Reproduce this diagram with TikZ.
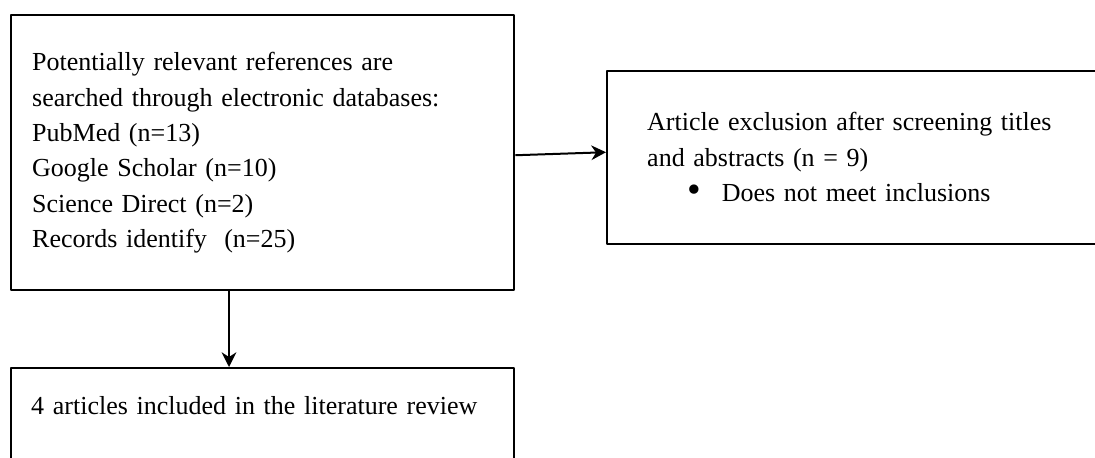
\documentclass[tikz,border=0pt]{standalone}
\usepackage{fontspec}
\setmainfont{Liberation Serif}
\usepackage{graphicx}
\usepackage{tikz}
\usetikzlibrary{arrows.meta}
\definecolor{boxline}{RGB}{0,0,0}

\tikzset{
  flowbox/.style={draw=boxline,line width=1.8pt,rectangle,align=left,anchor=north west,
    font=\fontsize{19.5}{26.5}\selectfont},
  flowarrow/.style={draw=boxline,line width=1.5pt,-{Stealth[length=11pt,width=11pt,inset=3.5pt]}}
}

\begin{document}
\begin{tikzpicture}[x=0.75pt,y=-0.75pt,line join=round]
  \useasboundingbox (0,0) rectangle (1095,457);
  \clip (0,0) rectangle (1095,457);
  % search box, exclusion box (runs off the right edge), result box (runs off the bottom)
  \node[flowbox,text width=345.75pt,inner xsep=15.75pt,minimum height=206.25pt] (search) at (10,14)
    {Potentially relevant references are\\
     searched through electronic databases:\\
     PubMed (n=13)\\
     Google Scholar (n=10)\\
     Science Direct (n=2)\\
     Records identify\ \ (n=25)};
  \node[flowbox,text width=333pt,inner xsep=30pt,minimum height=129.75pt] (exclude) at (606,70)
    {Article exclusion after screening titles\\
     and abstracts (n = 9)\\
     \hspace*{30pt}\makebox[26pt][l]{\raisebox{-1.2pt}{\scalebox{1.5}{\textbullet}}}Does not meet inclusions};
  \node[flowbox,text width=347.25pt,inner xsep=15pt,inner ysep=21pt] (included) at (10,367)
    {4 articles included in the literature review\\[60pt]~};
  \coordinate (drop) at (229,0);
  \draw[flowarrow] ([yshift=-1.9pt]search.east) -- ([yshift=4.1pt]exclude.west);
  \draw[flowarrow] (search.south -| drop) -- (included.north -| drop);
\end{tikzpicture}
\end{document}
